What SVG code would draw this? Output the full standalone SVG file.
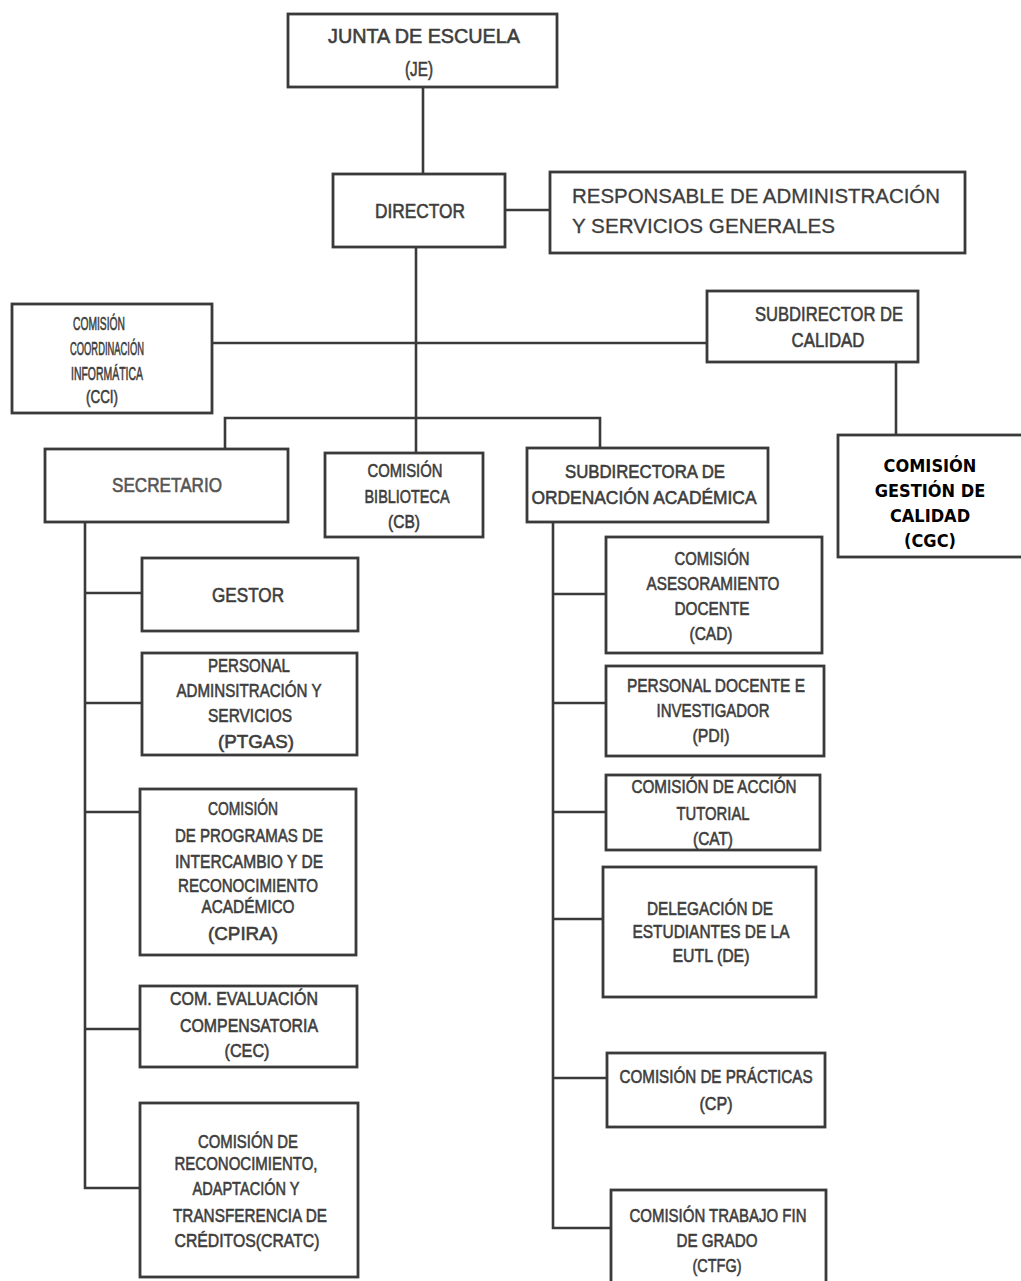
<svg xmlns="http://www.w3.org/2000/svg" width="1021" height="1281" viewBox="0 0 1021 1281">
<style>
.b{fill:#fff;stroke:#3a3a3a;stroke-width:2.8}
.c{fill:none;stroke:#3a3a3a;stroke-width:2.6}
text{font-family:"Liberation Sans",Arial,sans-serif;fill:#3d3d3d;stroke:#3d3d3d;stroke-width:0.6;text-anchor:middle}
.t{font-size:19px}
.l{font-size:21px}
.s{font-size:18.5px}
.r{font-size:21px;text-anchor:start;stroke-width:0.3}
.g{font-family:"DejaVu Sans Condensed","DejaVu Sans",sans-serif;font-weight:bold;font-size:18px;fill:#000;stroke:none}
</style>
<rect width="1021" height="1281" fill="#fff"/>
<g id="connectors">
<path class="c" d="M423,87V174"/>
<path class="c" d="M505,210H550"/>
<path class="c" d="M416,247V453"/>
<path class="c" d="M212,343H707"/>
<path class="c" d="M896,362V435"/>
<path class="c" d="M225,449V418H600V448"/>
<path class="c" d="M85,522V1188H140M85,593H142M85,703H142M85,812H140M85,1029H140"/>
<path class="c" d="M553,522V1228H611M553,594H606M553,703H606M553,812H606M553,919H603M553,1078H607"/>
</g>
<g id="je"><rect class="b" x="288" y="14" width="269" height="73"/>
<text class="l" x="424" y="43" textLength="192" lengthAdjust="spacingAndGlyphs">JUNTA DE ESCUELA</text>
<text class="l" x="419" y="76" textLength="28" lengthAdjust="spacingAndGlyphs">(JE)</text></g>
<g id="director"><rect class="b" x="333" y="174" width="172" height="73"/>
<text class="l" x="420" y="218" textLength="90" lengthAdjust="spacingAndGlyphs">DIRECTOR</text></g>
<g id="responsable"><rect class="b" x="550" y="172" width="415" height="81"/>
<text class="r" x="572" y="203" textLength="368" lengthAdjust="spacingAndGlyphs">RESPONSABLE DE ADMINISTRACIÓN</text>
<text class="r" x="572" y="233" textLength="263" lengthAdjust="spacingAndGlyphs">Y SERVICIOS GENERALES</text></g>
<g id="cci"><rect class="b" x="12" y="304" width="200" height="109"/>
<text class="s" x="99" y="330" textLength="52" lengthAdjust="spacingAndGlyphs">COMISIÓN</text>
<text class="s" x="107" y="355" textLength="74" lengthAdjust="spacingAndGlyphs">COORDINACIÓN</text>
<text class="s" x="107" y="380" textLength="72" lengthAdjust="spacingAndGlyphs">INFORMÁTICA</text>
<text class="s" x="102" y="403" textLength="32" lengthAdjust="spacingAndGlyphs">(CCI)</text></g>
<g id="subcalidad"><rect class="b" x="707" y="291" width="211" height="71"/>
<text class="l" x="829" y="321" textLength="148" lengthAdjust="spacingAndGlyphs">SUBDIRECTOR DE</text>
<text class="l" x="828" y="347" textLength="73" lengthAdjust="spacingAndGlyphs">CALIDAD</text></g>
<g id="cgc"><rect class="b" x="838" y="435" width="190" height="122"/>
<text class="g" x="930" y="472">COMISIÓN</text><text class="g" x="930" y="497">GESTIÓN DE</text><text class="g" x="930" y="522">CALIDAD</text><text class="g" x="930" y="547">(CGC)</text></g>
<g id="secretario"><rect class="b" x="45" y="449" width="243" height="73"/>
<text class="l" x="167" y="492" textLength="110" lengthAdjust="spacingAndGlyphs" style="fill:#555;stroke:#555">SECRETARIO</text></g>
<g id="cb"><rect class="b" x="325" y="453" width="158" height="84"/>
<text class="t" x="405" y="477" textLength="75" lengthAdjust="spacingAndGlyphs">COMISIÓN</text>
<text class="t" x="407" y="503" textLength="85" lengthAdjust="spacingAndGlyphs">BIBLIOTECA</text>
<text class="t" x="404" y="528" textLength="32" lengthAdjust="spacingAndGlyphs">(CB)</text></g>
<g id="subordenacion"><rect class="b" x="527" y="448" width="241" height="74"/>
<text class="t" x="645" y="478" textLength="160" lengthAdjust="spacingAndGlyphs">SUBDIRECTORA DE</text>
<text class="t" x="644" y="504" textLength="225" lengthAdjust="spacingAndGlyphs">ORDENACIÓN  ACADÉMICA</text></g>
<g id="gestor"><rect class="b" x="142" y="558" width="216" height="73"/>
<text class="l" x="248" y="602" textLength="72" lengthAdjust="spacingAndGlyphs">GESTOR</text></g>
<g id="ptgas"><rect class="b" x="142" y="653" width="215" height="102"/>
<text class="t" x="249" y="672" textLength="82" lengthAdjust="spacingAndGlyphs">PERSONAL</text>
<text class="t" x="249" y="697" textLength="145" lengthAdjust="spacingAndGlyphs">ADMINSITRACIÓN Y</text>
<text class="t" x="250" y="722" textLength="84" lengthAdjust="spacingAndGlyphs">SERVICIOS</text>
<text class="t" x="256" y="748" textLength="76" lengthAdjust="spacingAndGlyphs">(PTGAS)</text></g>
<g id="cpira"><rect class="b" x="140" y="789" width="216" height="166"/>
<text class="t" x="243" y="815" textLength="70" lengthAdjust="spacingAndGlyphs">COMISIÓN</text>
<text class="t" x="249" y="842" textLength="148" lengthAdjust="spacingAndGlyphs">DE PROGRAMAS DE</text>
<text class="t" x="249" y="868" textLength="148" lengthAdjust="spacingAndGlyphs">INTERCAMBIO Y DE</text>
<text class="t" x="248" y="892" textLength="140" lengthAdjust="spacingAndGlyphs">RECONOCIMIENTO</text>
<text class="t" x="248" y="913" textLength="93" lengthAdjust="spacingAndGlyphs">ACADÉMICO</text>
<text class="t" x="243" y="940" textLength="70" lengthAdjust="spacingAndGlyphs">(CPIRA)</text></g>
<g id="cec"><rect class="b" x="140" y="986" width="217" height="81"/>
<text class="t" x="244" y="1005" textLength="148" lengthAdjust="spacingAndGlyphs">COM. EVALUACIÓN</text>
<text class="t" x="249" y="1032" textLength="138" lengthAdjust="spacingAndGlyphs">COMPENSATORIA</text>
<text class="t" x="247" y="1057" textLength="45" lengthAdjust="spacingAndGlyphs">(CEC)</text></g>
<g id="cratc"><rect class="b" x="140" y="1103" width="218" height="174"/>
<text class="t" x="248" y="1148" textLength="100" lengthAdjust="spacingAndGlyphs">COMISIÓN DE</text>
<text class="t" x="246" y="1170" textLength="143" lengthAdjust="spacingAndGlyphs">RECONOCIMIENTO,</text>
<text class="t" x="246" y="1195" textLength="107" lengthAdjust="spacingAndGlyphs">ADAPTACIÓN Y</text>
<text class="t" x="250" y="1222" textLength="154" lengthAdjust="spacingAndGlyphs">TRANSFERENCIA DE</text>
<text class="t" x="247" y="1247" textLength="145" lengthAdjust="spacingAndGlyphs">CRÉDITOS(CRATC)</text></g>
<g id="cad"><rect class="b" x="606" y="537" width="216" height="116"/>
<text class="t" x="712" y="565" textLength="75" lengthAdjust="spacingAndGlyphs">COMISIÓN</text>
<text class="t" x="713" y="590" textLength="133" lengthAdjust="spacingAndGlyphs">ASESORAMIENTO</text>
<text class="t" x="712" y="615" textLength="75" lengthAdjust="spacingAndGlyphs">DOCENTE</text>
<text class="t" x="711" y="640" textLength="43" lengthAdjust="spacingAndGlyphs">(CAD)</text></g>
<g id="pdi"><rect class="b" x="606" y="666" width="218" height="90"/>
<text class="t" x="716" y="692" textLength="178" lengthAdjust="spacingAndGlyphs">PERSONAL DOCENTE E</text>
<text class="t" x="713" y="717" textLength="113" lengthAdjust="spacingAndGlyphs">INVESTIGADOR</text>
<text class="t" x="711" y="742" textLength="37" lengthAdjust="spacingAndGlyphs">(PDI)</text></g>
<g id="cat"><rect class="b" x="606" y="775" width="214" height="75"/>
<text class="t" x="714" y="793" textLength="165" lengthAdjust="spacingAndGlyphs">COMISIÓN DE ACCIÓN</text>
<text class="t" x="713" y="820" textLength="73" lengthAdjust="spacingAndGlyphs">TUTORIAL</text>
<text class="t" x="713" y="845" textLength="40" lengthAdjust="spacingAndGlyphs">(CAT)</text></g>
<g id="de"><rect class="b" x="603" y="867" width="213" height="130"/>
<text class="t" x="710" y="915" textLength="126" lengthAdjust="spacingAndGlyphs">DELEGACIÓN DE</text>
<text class="t" x="711" y="938" textLength="157" lengthAdjust="spacingAndGlyphs">ESTUDIANTES DE LA</text>
<text class="t" x="711" y="962" textLength="77" lengthAdjust="spacingAndGlyphs">EUTL (DE)</text></g>
<g id="cp"><rect class="b" x="607" y="1053" width="218" height="74"/>
<text class="t" x="716" y="1083" textLength="193" lengthAdjust="spacingAndGlyphs">COMISIÓN DE PRÁCTICAS</text>
<text class="t" x="716" y="1110" textLength="33" lengthAdjust="spacingAndGlyphs">(CP)</text></g>
<g id="ctfg"><rect class="b" x="611" y="1190" width="215" height="96"/>
<text class="t" x="718" y="1222" textLength="177" lengthAdjust="spacingAndGlyphs">COMISIÓN TRABAJO FIN</text>
<text class="t" x="717" y="1247" textLength="81" lengthAdjust="spacingAndGlyphs">DE GRADO</text>
<text class="t" x="717" y="1272" textLength="49" lengthAdjust="spacingAndGlyphs">(CTFG)</text></g>
</svg>
